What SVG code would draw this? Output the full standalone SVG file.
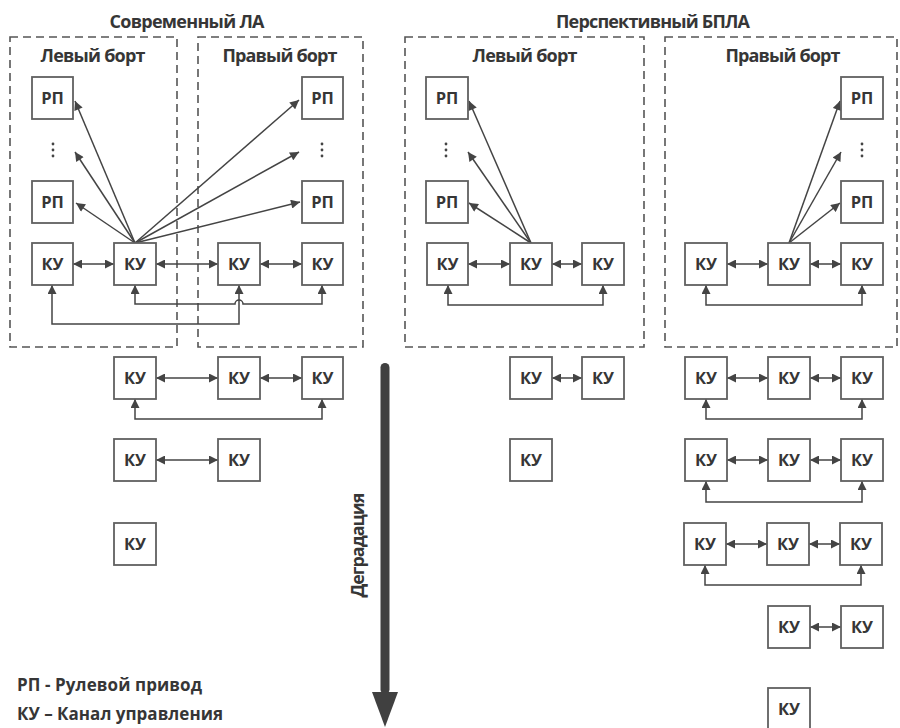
<svg xmlns="http://www.w3.org/2000/svg" width="900" height="728" viewBox="0 0 900 728">
<style>
text{font-family:"Open Sans","Liberation Sans",Arial,sans-serif;font-weight:bold;fill:#363636}
.t{font-size:18px;text-anchor:middle}
.b{font-size:16.5px;text-anchor:middle}
.l{font-size:17px}
.box{fill:#fff;stroke:#606060;stroke-width:1.8}
.dash{fill:none;stroke:#555;stroke-width:1.6;stroke-dasharray:8 5}
.c{fill:none;stroke:#444;stroke-width:1.5;marker-end:url(#ah)}
.bi{fill:none;stroke:#444;stroke-width:1.5;marker-start:url(#ah);marker-end:url(#ah)}
.dot{fill:#444}
</style>
<defs>
<marker id="ah" viewBox="0 0 10 10" refX="10" refY="5" markerWidth="10" markerHeight="9" orient="auto-start-reverse" markerUnits="userSpaceOnUse"><path d="M0,0 L10,5 L0,10 z" fill="#444"/></marker>
</defs>
<rect width="900" height="728" fill="#fff"/>

<!-- titles -->
<text class="t" x="187" y="28" textLength="155">Современный ЛА</text>
<text class="t" x="653" y="28" textLength="194">Перспективный БПЛА</text>

<!-- dashed boards -->
<g id="boards">
<rect class="dash" x="10" y="37" width="167" height="310"/>
<rect class="dash" x="198" y="37" width="165" height="310"/>
<rect class="dash" x="405" y="37" width="239" height="310"/>
<rect class="dash" x="665" y="37" width="232" height="310"/>
<text class="t" x="93" y="62" textLength="105">Левый борт</text>
<text class="t" x="280" y="62" textLength="115">Правый борт</text>
<text class="t" x="525" y="62" textLength="105">Левый борт</text>
<text class="t" x="783" y="62" textLength="115">Правый борт</text>
</g>

<!-- connectors -->
<g id="connectors">
<!-- A top -->
<line class="c" x1="135" y1="243" x2="75" y2="101"/>
<line class="c" x1="135" y1="243" x2="75" y2="152"/>
<line class="c" x1="135" y1="243" x2="76" y2="203"/>
<line class="c" x1="135" y1="243" x2="299" y2="100"/>
<line class="c" x1="135" y1="243" x2="299" y2="152"/>
<line class="c" x1="135" y1="243" x2="300" y2="202"/>
<line class="bi" x1="73" y1="264" x2="114" y2="264"/>
<line class="bi" x1="156" y1="264" x2="218" y2="264"/>
<line class="bi" x1="260" y1="264" x2="302" y2="264"/>
<path class="bi" d="M135,285 V304 H235 A4,4 0 0 1 243,304 H322 V285"/>
<path class="bi" d="M52,285 V324 H239 V285"/>
<!-- B left top -->
<line class="c" x1="531" y1="243" x2="469" y2="101"/>
<line class="c" x1="531" y1="243" x2="468" y2="152"/>
<line class="c" x1="531" y1="243" x2="469" y2="203"/>
<line class="bi" x1="468" y1="264" x2="510" y2="264"/>
<line class="bi" x1="552" y1="264" x2="582" y2="264"/>
<path class="bi" d="M448,285 V305 H603 V285"/>
<!-- B right top -->
<line class="c" x1="789" y1="243" x2="840" y2="101"/>
<line class="c" x1="789" y1="243" x2="841" y2="152"/>
<line class="c" x1="789" y1="243" x2="840" y2="203"/>
<line class="bi" x1="727" y1="264" x2="768" y2="264"/>
<line class="bi" x1="810" y1="264" x2="841" y2="264"/>
<path class="bi" d="M706,285 V305 H862 V285"/>
<!-- A lower -->
<line class="bi" x1="156" y1="378" x2="218" y2="378"/>
<line class="bi" x1="260" y1="378" x2="302" y2="378"/>
<path class="bi" d="M135,399 V419 H322 V399"/>
<line class="bi" x1="156" y1="460" x2="218" y2="460"/>
<!-- B left lower -->
<line class="bi" x1="552" y1="378" x2="582" y2="378"/>
<!-- B right lower -->
<line class="bi" x1="727" y1="378" x2="768" y2="378"/>
<line class="bi" x1="810" y1="378" x2="841" y2="378"/>
<path class="bi" d="M706,399 V419 H862 V399"/>
<line class="bi" x1="727" y1="460" x2="768" y2="460"/>
<line class="bi" x1="810" y1="460" x2="841" y2="460"/>
<path class="bi" d="M706,481 V502 H862 V481"/>
<line class="bi" x1="726" y1="544" x2="767" y2="544"/>
<line class="bi" x1="809" y1="544" x2="840" y2="544"/>
<path class="bi" d="M705,565 V585 H861 V565"/>
<line class="bi" x1="810" y1="627" x2="841" y2="627"/>
</g>

<!-- A nodes -->
<g id="a-rp1"><rect class="box" x="32" y="77" width="41" height="42"/><text class="b" x="52.5" y="104">РП</text></g>
<g id="a-rp2"><rect class="box" x="32" y="181" width="41" height="42"/><text class="b" x="52.5" y="208">РП</text></g>
<g id="a-dots1"><circle class="dot" cx="53" cy="144" r="1.4"/><circle class="dot" cx="53" cy="150" r="1.4"/><circle class="dot" cx="53" cy="156" r="1.4"/></g>
<g id="a-rp3"><rect class="box" x="302" y="77" width="41" height="42"/><text class="b" x="322.5" y="104">РП</text></g>
<g id="a-rp4"><rect class="box" x="302" y="181" width="41" height="42"/><text class="b" x="322.5" y="208">РП</text></g>
<g id="a-dots2"><circle class="dot" cx="322" cy="144" r="1.4"/><circle class="dot" cx="322" cy="150" r="1.4"/><circle class="dot" cx="322" cy="156" r="1.4"/></g>
<g id="a-ku1"><rect class="box" x="32" y="243" width="41" height="42"/><text class="b" x="52.5" y="270">КУ</text></g>
<g id="a-ku2"><rect class="box" x="114" y="243" width="42" height="42"/><text class="b" x="135" y="270">КУ</text></g>
<g id="a-ku3"><rect class="box" x="218" y="243" width="42" height="42"/><text class="b" x="239" y="270">КУ</text></g>
<g id="a-ku4"><rect class="box" x="302" y="243" width="41" height="42"/><text class="b" x="322.5" y="270">КУ</text></g>

<g id="a-r1-1"><rect class="box" x="114" y="357" width="42" height="42"/><text class="b" x="135" y="384">КУ</text></g>
<g id="a-r1-2"><rect class="box" x="218" y="357" width="42" height="42"/><text class="b" x="239" y="384">КУ</text></g>
<g id="a-r1-3"><rect class="box" x="302" y="357" width="41" height="42"/><text class="b" x="322.5" y="384">КУ</text></g>
<g id="a-r2-1"><rect class="box" x="114" y="439" width="42" height="42"/><text class="b" x="135" y="466">КУ</text></g>
<g id="a-r2-2"><rect class="box" x="218" y="439" width="42" height="42"/><text class="b" x="239" y="466">КУ</text></g>
<g id="a-r3-1"><rect class="box" x="114" y="523" width="42" height="42"/><text class="b" x="135" y="550">КУ</text></g>

<!-- B left nodes -->
<g id="bl-rp1"><rect class="box" x="426" y="77" width="42" height="42"/><text class="b" x="447" y="104">РП</text></g>
<g id="bl-rp2"><rect class="box" x="426" y="181" width="42" height="42"/><text class="b" x="447" y="208">РП</text></g>
<g id="bl-dots"><circle class="dot" cx="446" cy="144" r="1.4"/><circle class="dot" cx="446" cy="150" r="1.4"/><circle class="dot" cx="446" cy="156" r="1.4"/></g>
<g id="bl-ku1"><rect class="box" x="427" y="243" width="41" height="42"/><text class="b" x="447.5" y="270">КУ</text></g>
<g id="bl-ku2"><rect class="box" x="510" y="243" width="42" height="42"/><text class="b" x="531" y="270">КУ</text></g>
<g id="bl-ku3"><rect class="box" x="582" y="243" width="42" height="42"/><text class="b" x="603" y="270">КУ</text></g>
<g id="bl-r1-1"><rect class="box" x="510" y="357" width="42" height="42"/><text class="b" x="531" y="384">КУ</text></g>
<g id="bl-r1-2"><rect class="box" x="582" y="357" width="42" height="42"/><text class="b" x="603" y="384">КУ</text></g>
<g id="bl-r2-1"><rect class="box" x="510" y="439" width="42" height="42"/><text class="b" x="531" y="466">КУ</text></g>

<!-- B right nodes -->
<g id="br-rp1"><rect class="box" x="841" y="77" width="42" height="42"/><text class="b" x="862" y="104">РП</text></g>
<g id="br-rp2"><rect class="box" x="841" y="181" width="42" height="42"/><text class="b" x="862" y="208">РП</text></g>
<g id="br-dots"><circle class="dot" cx="862" cy="144" r="1.4"/><circle class="dot" cx="862" cy="150" r="1.4"/><circle class="dot" cx="862" cy="156" r="1.4"/></g>
<g id="br-ku1"><rect class="box" x="685" y="243" width="42" height="42"/><text class="b" x="706" y="270">КУ</text></g>
<g id="br-ku2"><rect class="box" x="768" y="243" width="42" height="42"/><text class="b" x="789" y="270">КУ</text></g>
<g id="br-ku3"><rect class="box" x="841" y="243" width="42" height="42"/><text class="b" x="862" y="270">КУ</text></g>
<g id="br-r1-1"><rect class="box" x="685" y="357" width="42" height="42"/><text class="b" x="706" y="384">КУ</text></g>
<g id="br-r1-2"><rect class="box" x="768" y="357" width="42" height="42"/><text class="b" x="789" y="384">КУ</text></g>
<g id="br-r1-3"><rect class="box" x="841" y="357" width="42" height="42"/><text class="b" x="862" y="384">КУ</text></g>
<g id="br-r2-1"><rect class="box" x="685" y="439" width="42" height="42"/><text class="b" x="706" y="466">КУ</text></g>
<g id="br-r2-2"><rect class="box" x="768" y="439" width="42" height="42"/><text class="b" x="789" y="466">КУ</text></g>
<g id="br-r2-3"><rect class="box" x="841" y="439" width="42" height="42"/><text class="b" x="862" y="466">КУ</text></g>
<g id="br-r3-1"><rect class="box" x="684" y="523" width="42" height="42"/><text class="b" x="705" y="550">КУ</text></g>
<g id="br-r3-2"><rect class="box" x="767" y="523" width="42" height="42"/><text class="b" x="788" y="550">КУ</text></g>
<g id="br-r3-3"><rect class="box" x="840" y="523" width="42" height="42"/><text class="b" x="861" y="550">КУ</text></g>
<g id="br-r4-1"><rect class="box" x="768" y="606" width="42" height="42"/><text class="b" x="789" y="633">КУ</text></g>
<g id="br-r4-2"><rect class="box" x="841" y="606" width="42" height="42"/><text class="b" x="862" y="633">КУ</text></g>
<g id="br-r5-1"><rect class="box" x="768" y="688" width="42" height="42"/><text class="b" x="789" y="715">КУ</text></g>

<!-- degradation arrow -->
<g id="degradation">
<rect x="380.5" y="363" width="9" height="331" rx="4.5" fill="#404040"/>
<polygon points="372,692 398,692 385,727" fill="#404040"/>
<text class="t" transform="translate(364,545) rotate(-90)" textLength="105">Деградация</text>
</g>

<!-- legend -->
<g id="legend">
<text class="l" x="17" y="691" textLength="185">РП - Рулевой привод</text>
<text class="l" x="17" y="720" textLength="206">КУ – Канал управления</text>
</g>
</svg>
